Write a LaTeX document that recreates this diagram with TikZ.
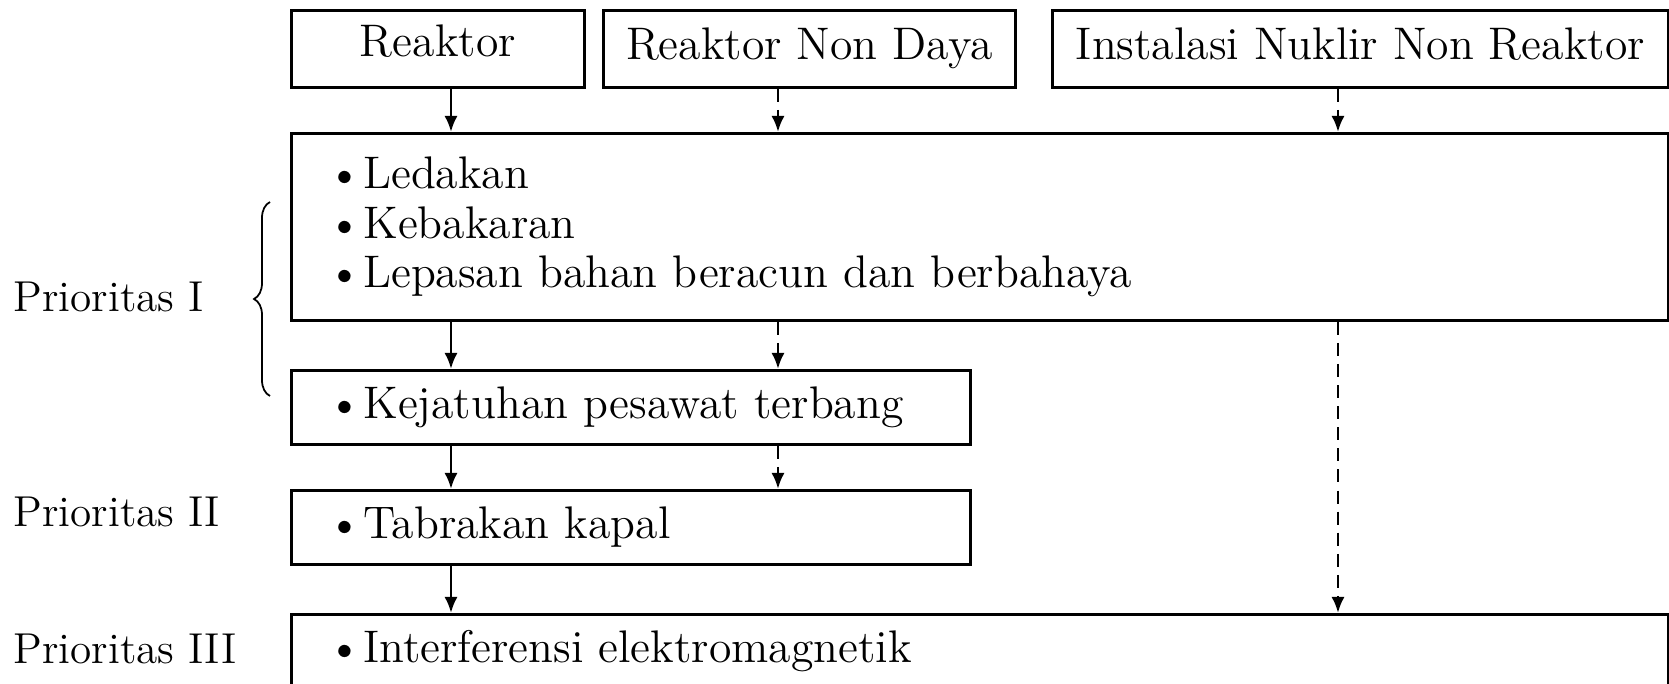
\documentclass[tikz,border=0pt]{standalone}
\usetikzlibrary{positioning, arrows.meta, decorations.pathreplacing}
\newcommand{\butir}[1]{\mbox{\textbullet\hspace{0.3pt}#1}}

\begin{document}
\begin{tikzpicture}[x=0.1mm, y=-0.1mm,
    kotak/.style={draw, line width=0.8pt, inner sep=0pt,
                  font=\fontsize{13}{14.2}\selectfont},
    judul/.style={kotak, anchor=north west, minimum height=7.7mm,
                  text height=9pt, text depth=3pt},
    daftar/.style={kotak, anchor=north west, align=left, inner xsep=3.6mm},
    panah/.style={-{Latex[length=4.6pt,width=3.8pt]}, line width=0.8pt},
    panahputus/.style={panah, dash pattern=on 3.7pt off 2.3pt},
    prioritas/.style={anchor=west, inner sep=0pt,
                      font=\fontsize{12.3}{14.2}\selectfont}]
    \useasboundingbox (0,0) rectangle (1669,684);
    % kolom panah
    \coordinate (kolA) at (451,0);
    \coordinate (kolB) at (778,0);
    \coordinate (kolC) at (1338,0);
    % jenis instalasi
    \node[judul, minimum width=29.3mm, text depth=4.5pt] (reaktor) at (290,9) {Reaktor};
    \node[judul, minimum width=41.2mm] (nondaya) at (602,9) {Reaktor Non Daya};
    \node[judul, minimum width=61.6mm] (instalasi) at (1051,9) {Instalasi Nuklir Non Reaktor};
    % kejadian
    \node[daftar, text width=130.5mm, minimum height=18.7mm] (bahaya) at (290,132)
          {\butir{Ledakan}\\ \butir{Kebakaran}\\ \butir{Lepasan bahan beracun dan berbahaya}};
    \node[daftar, text width=60.7mm, minimum height=7.4mm] (pesawat) at (290,369)
          {\butir{Kejatuhan pesawat terbang}};
    \node[daftar, text width=60.7mm, minimum height=7.4mm] (kapal) at (290,489)
          {\butir{Tabrakan kapal}};
    \node[daftar, text width=130.5mm, minimum height=7.4mm] (emi) at (290,613)
          {\butir{Interferensi elektromagnetik}};
    % prioritas
    \node[prioritas] (prio1) at (13,297) {Prioritas I};
    \node[prioritas] (prio2) at (13,512) {Prioritas II};
    \node[prioritas] (prio3) at (13,649) {Prioritas III};
    \draw[decorate, decoration={brace, amplitude=1.6mm}, line width=0.5pt]
          (270,396) -- (270,202);
    % panah
    \draw[panah] (reaktor.south -| kolA) -- (bahaya.north -| kolA);
    \draw[panahputus] (nondaya.south -| kolB) -- (bahaya.north -| kolB);
    \draw[panahputus] (instalasi.south -| kolC) -- (bahaya.north -| kolC);
    \draw[panah] (bahaya.south -| kolA) -- (pesawat.north -| kolA);
    \draw[panahputus] (bahaya.south -| kolB) -- (pesawat.north -| kolB);
    \draw[panahputus] (bahaya.south -| kolC) -- (emi.north -| kolC);
    \draw[panah] (pesawat.south -| kolA) -- (kapal.north -| kolA);
    \draw[panahputus] (pesawat.south -| kolB) -- (kapal.north -| kolB);
    \draw[panah] (kapal.south -| kolA) -- (emi.north -| kolA);
\end{tikzpicture}
\end{document}
